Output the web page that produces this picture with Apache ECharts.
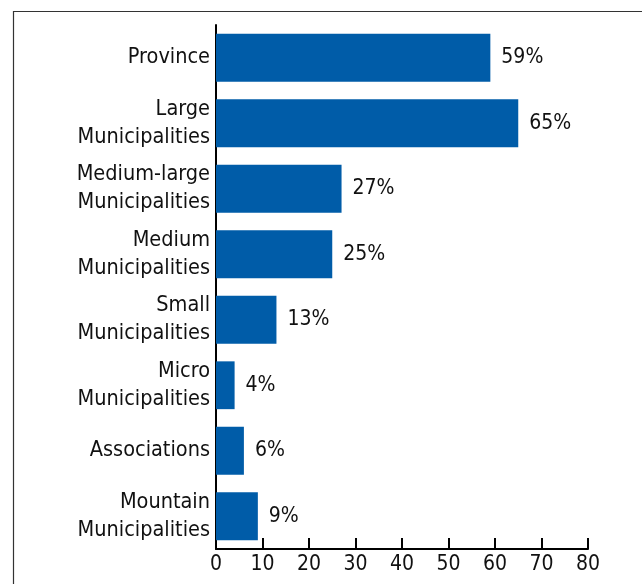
<!DOCTYPE html>
<html>
<head>
<meta charset="utf-8">
<script src="https://cdn.jsdelivr.net/npm/echarts@6/dist/echarts.min.js"></script>
<style>
  html, body { margin: 0; padding: 0; background: #fff; }
  #chart { width: 642px; height: 584px; }
</style>
</head>
<body>
<div id="chart"></div>
<script>
// Share of bodies, by type of administration (%)
const categories = [
  'Province',
  'Large\nMunicipalities',
  'Medium-large\nMunicipalities',
  'Medium\nMunicipalities',
  'Small\nMunicipalities',
  'Micro\nMunicipalities',
  'Associations',
  'Mountain\nMunicipalities'
];
const shares = [59, 65, 27, 25, 13, 4, 6, 9];
const xTicks = [0, 10, 20, 30, 40, 50, 60, 70, 80];

const FONT = '"DejaVu Sans Condensed", "DejaVu Sans", sans-serif';
const chart = echarts.init(document.getElementById('chart'));

chart.setOption({
  animation: false,
  backgroundColor: '#fff',
  graphic: [{
    type: 'rect',
    shape: { x: 13.5, y: 11.5, width: 800, height: 800 },
    style: { fill: 'none', stroke: '#333', lineWidth: 1.2 },
    silent: true
  }],
  grid: { left: 216, right: 54, top: 25, bottom: 35, containLabel: false },
  xAxis: {
    type: 'value',
    min: xTicks[0],
    max: xTicks[xTicks.length - 1],
    interval: xTicks[1] - xTicks[0],
    axisLine: { show: true, lineStyle: { color: '#000', width: 2 } },
    axisTick: { show: true, inside: true, length: 11, lineStyle: { color: '#000', width: 2 } },
    axisLabel: { color: '#111', fontFamily: FONT, fontSize: 21, margin: 5 },
    splitLine: { show: false }
  },
  yAxis: {
    type: 'category',
    data: categories,
    inverse: true,
    axisLine: { show: true, lineStyle: { color: '#000', width: 2 } },
    axisTick: { show: false },
    axisLabel: {
      color: '#111', fontFamily: FONT, fontSize: 21.5, lineHeight: 28,
      margin: 6, align: 'right'
    }
  },
  series: [{
    type: 'bar',
    data: shares,
    barCategoryGap: '27%',
    itemStyle: { color: '#005ca8' },
    label: {
      show: true,
      position: 'right',
      distance: 11,
      formatter: '{c}%',
      color: '#111',
      fontFamily: FONT,
      fontSize: 21
    }
  }]
});
</script>
</body>
</html>
